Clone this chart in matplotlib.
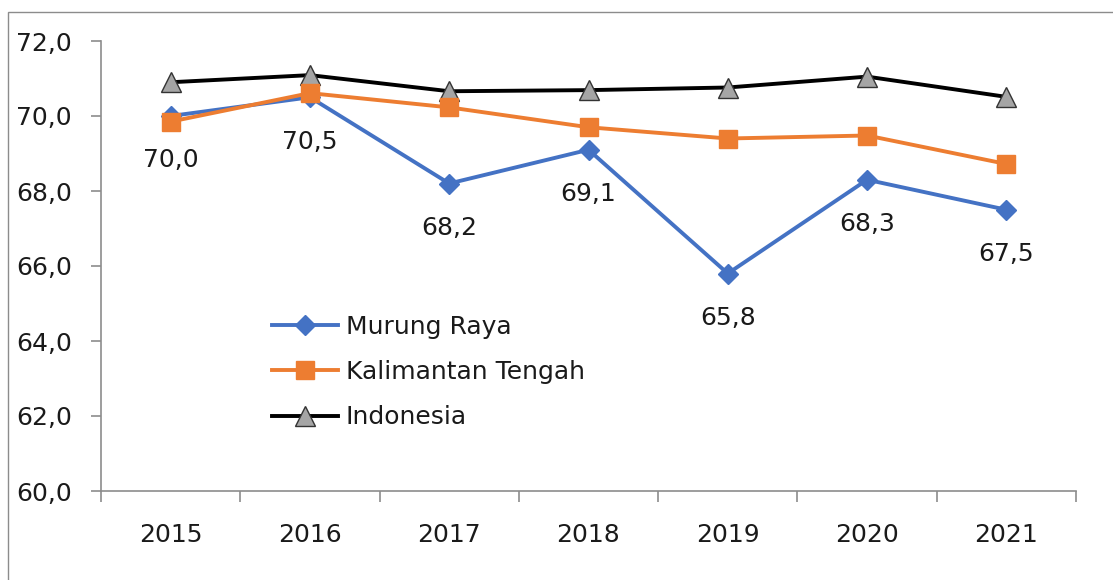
import matplotlib
matplotlib.use("Agg")
import matplotlib.pyplot as plt
from matplotlib.patches import Rectangle
from matplotlib.ticker import FuncFormatter

# ------------------------------------------------------------
# Data
# ------------------------------------------------------------
years = ["2015", "2016", "2017", "2018", "2019", "2020", "2021"]
murung_raya = [70.0, 70.5, 68.2, 69.1, 65.8, 68.3, 67.5]
kalteng     = [69.85, 70.61, 70.23, 69.70, 69.40, 69.48, 68.72]
indonesia   = [70.90, 71.09, 70.66, 70.69, 70.76, 71.05, 70.51]
y_ticks = [60, 62, 64, 66, 68, 70, 72]

W, H, DPI = 1113, 580, 100
FONT = "DejaVu Sans"
FS = 18
GRAY = "#8c8c8c"
TXT = "#1a1a1a"

plt.rcParams["font.family"] = [FONT]


def comma(v, _pos=None):
    return f"{v:.1f}".replace(".", ",")


fig = plt.figure(figsize=(W / DPI, H / DPI), dpi=DPI)

# outer chart border (cut off at right and bottom in the reference)
fig.patches.append(Rectangle((8 / W, -0.1), 1.2, 1 - 12 / H + 0.1,
                             transform=fig.transFigure, fill=False,
                             edgecolor=GRAY, linewidth=1.0))

ax = fig.add_axes([101 / W, (H - 491) / H, (1076 - 101) / W, (491 - 41) / H])
x = list(range(len(years)))

ax.plot(x, indonesia, color="black", lw=2.8, marker="^", ms=14,
        mfc="#a5a5a5", mec="#333333", mew=1.0, label="Indonesia", zorder=3)
ax.plot(x, murung_raya, color="#4472c4", lw=2.8, marker="D", ms=10,
        mfc="#4472c4", mec="#4472c4", label="Murung Raya", zorder=4)
ax.plot(x, kalteng, color="#ed7d31", lw=2.8, marker="s", ms=13,
        mfc="#ed7d31", mec="#ed7d31", label="Kalimantan Tengah", zorder=5)

# data labels under Murung Raya points
for xi, v in zip(x, murung_raya):
    ax.annotate(comma(v), (xi, v), xytext=(0, -32), textcoords="offset points",
                ha="center", va="center", fontsize=FS, color=TXT)

ax.set_xlim(-0.5, len(years) - 0.5)
ax.set_ylim(60, 72)
ax.set_yticks(y_ticks)
ax.yaxis.set_major_formatter(FuncFormatter(comma))
ax.set_xticks(x)
ax.set_xticklabels(years)
ax.set_xticks([i - 0.5 for i in range(len(years) + 1)], minor=True)

for s in ("top", "right"):
    ax.spines[s].set_visible(False)
for s in ("left", "bottom"):
    ax.spines[s].set_color(GRAY)
    ax.spines[s].set_linewidth(1.2)

ax.tick_params(axis="y", direction="out", length=7, width=1.2, color=GRAY,
               pad=14, labelsize=FS, labelcolor=TXT)
ax.tick_params(axis="x", which="major", length=0, pad=23,
               labelsize=FS, labelcolor=TXT)
ax.tick_params(axis="x", which="minor", direction="out", length=8,
               width=1.2, color=GRAY)

handles, labels = ax.get_legend_handles_labels()
order = [1, 2, 0]
leg = ax.legend([handles[i] for i in order], [labels[i] for i in order],
                loc="center left", bbox_to_anchor=(272 / W, 1 - 372 / H),
                bbox_transform=fig.transFigure, frameon=False, fontsize=FS,
                handlelength=2.65, handletextpad=0.3, labelspacing=0.85,
                borderpad=0, borderaxespad=0)
for t in leg.get_texts():
    t.set_color(TXT)

fig.savefig("out.png", dpi=DPI)
